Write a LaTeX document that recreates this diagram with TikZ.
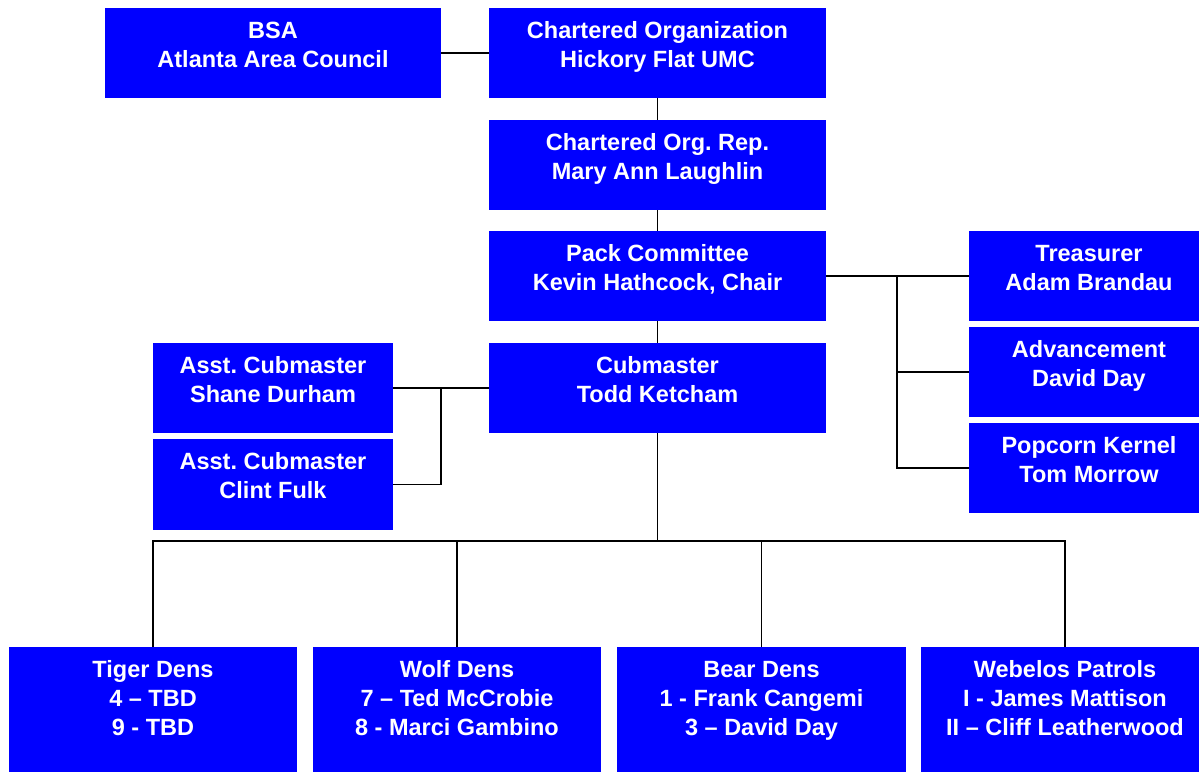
\documentclass[tikz,border=0pt]{standalone}
\usepackage{fontspec}
\setmainfont{Liberation Sans}
\frenchspacing
\newcommand\cellbox[3]{\parbox[t][#2pt][t]{#1pt}{\centering\rule{0pt}{30.5pt}#3}}
\tikzset{
  box/.style={fill=blue, text=white, inner sep=0pt, outer sep=0pt, anchor=north west,
    font=\bfseries\fontsize{23.5}{29}\selectfont},
  conn/.style={draw=black, line width=1.6pt}
}
\begin{document}
\begin{tikzpicture}[x=1pt,y=-1pt]
\useasboundingbox (0,0) rectangle (1199,771);
\fill[white] (0,0) rectangle (1199,771);
\node[box] (bsa) at (105,8) {\cellbox{336}{90}{BSA\\Atlanta Area Council}};
\node[box] (co) at (489,8) {\cellbox{337}{90}{Chartered Organization\\Hickory Flat UMC}};
\node[box] (rep) at (489,120) {\cellbox{337}{90}{Chartered Org. Rep.\\Mary Ann Laughlin}};
\node[box] (pc) at (489,231) {\cellbox{337}{90}{Pack Committee\\Kevin Hathcock, Chair}};
\node[box] (cm) at (489,343) {\cellbox{337}{90}{Cubmaster\\Todd Ketcham}};
\node[box] (shane) at (153,343) {\cellbox{240}{90}{Asst. Cubmaster\\Shane Durham}};
\node[box] (clint) at (153,439) {\cellbox{240}{91}{Asst. Cubmaster\\Clint Fulk}};
\node[box] (tre) at (969,231) {\cellbox{240}{90}{Treasurer\\Adam Brandau}};
\node[box] (adv) at (969,327) {\cellbox{240}{90}{Advancement\\David Day}};
\node[box] (pop) at (969,423) {\cellbox{240}{90}{Popcorn Kernel\\Tom Morrow}};
\node[box] (tiger) at (9,647) {\cellbox{288}{130}{Tiger Dens\\4 – TBD\\9 - TBD}};
\node[box] (wolf) at (313,647) {\cellbox{288}{130}{Wolf Dens\\7 – Ted McCrobie\\8 - Marci Gambino}};
\node[box] (bear) at (617,647) {\cellbox{289}{130}{Bear Dens\\1 - Frank Cangemi\\3 – David Day}};
\node[box] (web) at (921,647) {\cellbox{288}{130}{Webelos Patrols\\I - James Mattison\\II – Cliff Leatherwood}};
\coordinate (j1) at (897,276);
\coordinate (j2) at (441,388);
\coordinate (bus) at (657.5,541);
\draw[conn] (bsa) -- (co);
\draw[conn] (co) -- (rep);
\draw[conn] (rep) -- (pc);
\draw[conn] (pc) -- (cm);
\draw[conn] (pc.east) -- (tre.west);
\draw[conn] (j1) |- (adv.west);
\draw[conn] (j1) |- (pop.west);
\draw[conn] (cm.west) -- (shane.east);
\draw[conn] (j2) |- (clint.east);
\draw[conn] (cm.south) -- (bus);
\draw[conn] (tiger.north) |- (bus) -| (web.north);
\draw[conn] (wolf.north) -- (wolf.north |- bus);
\draw[conn] (bear.north) -- (bear.north |- bus);
\end{tikzpicture}
\end{document}
